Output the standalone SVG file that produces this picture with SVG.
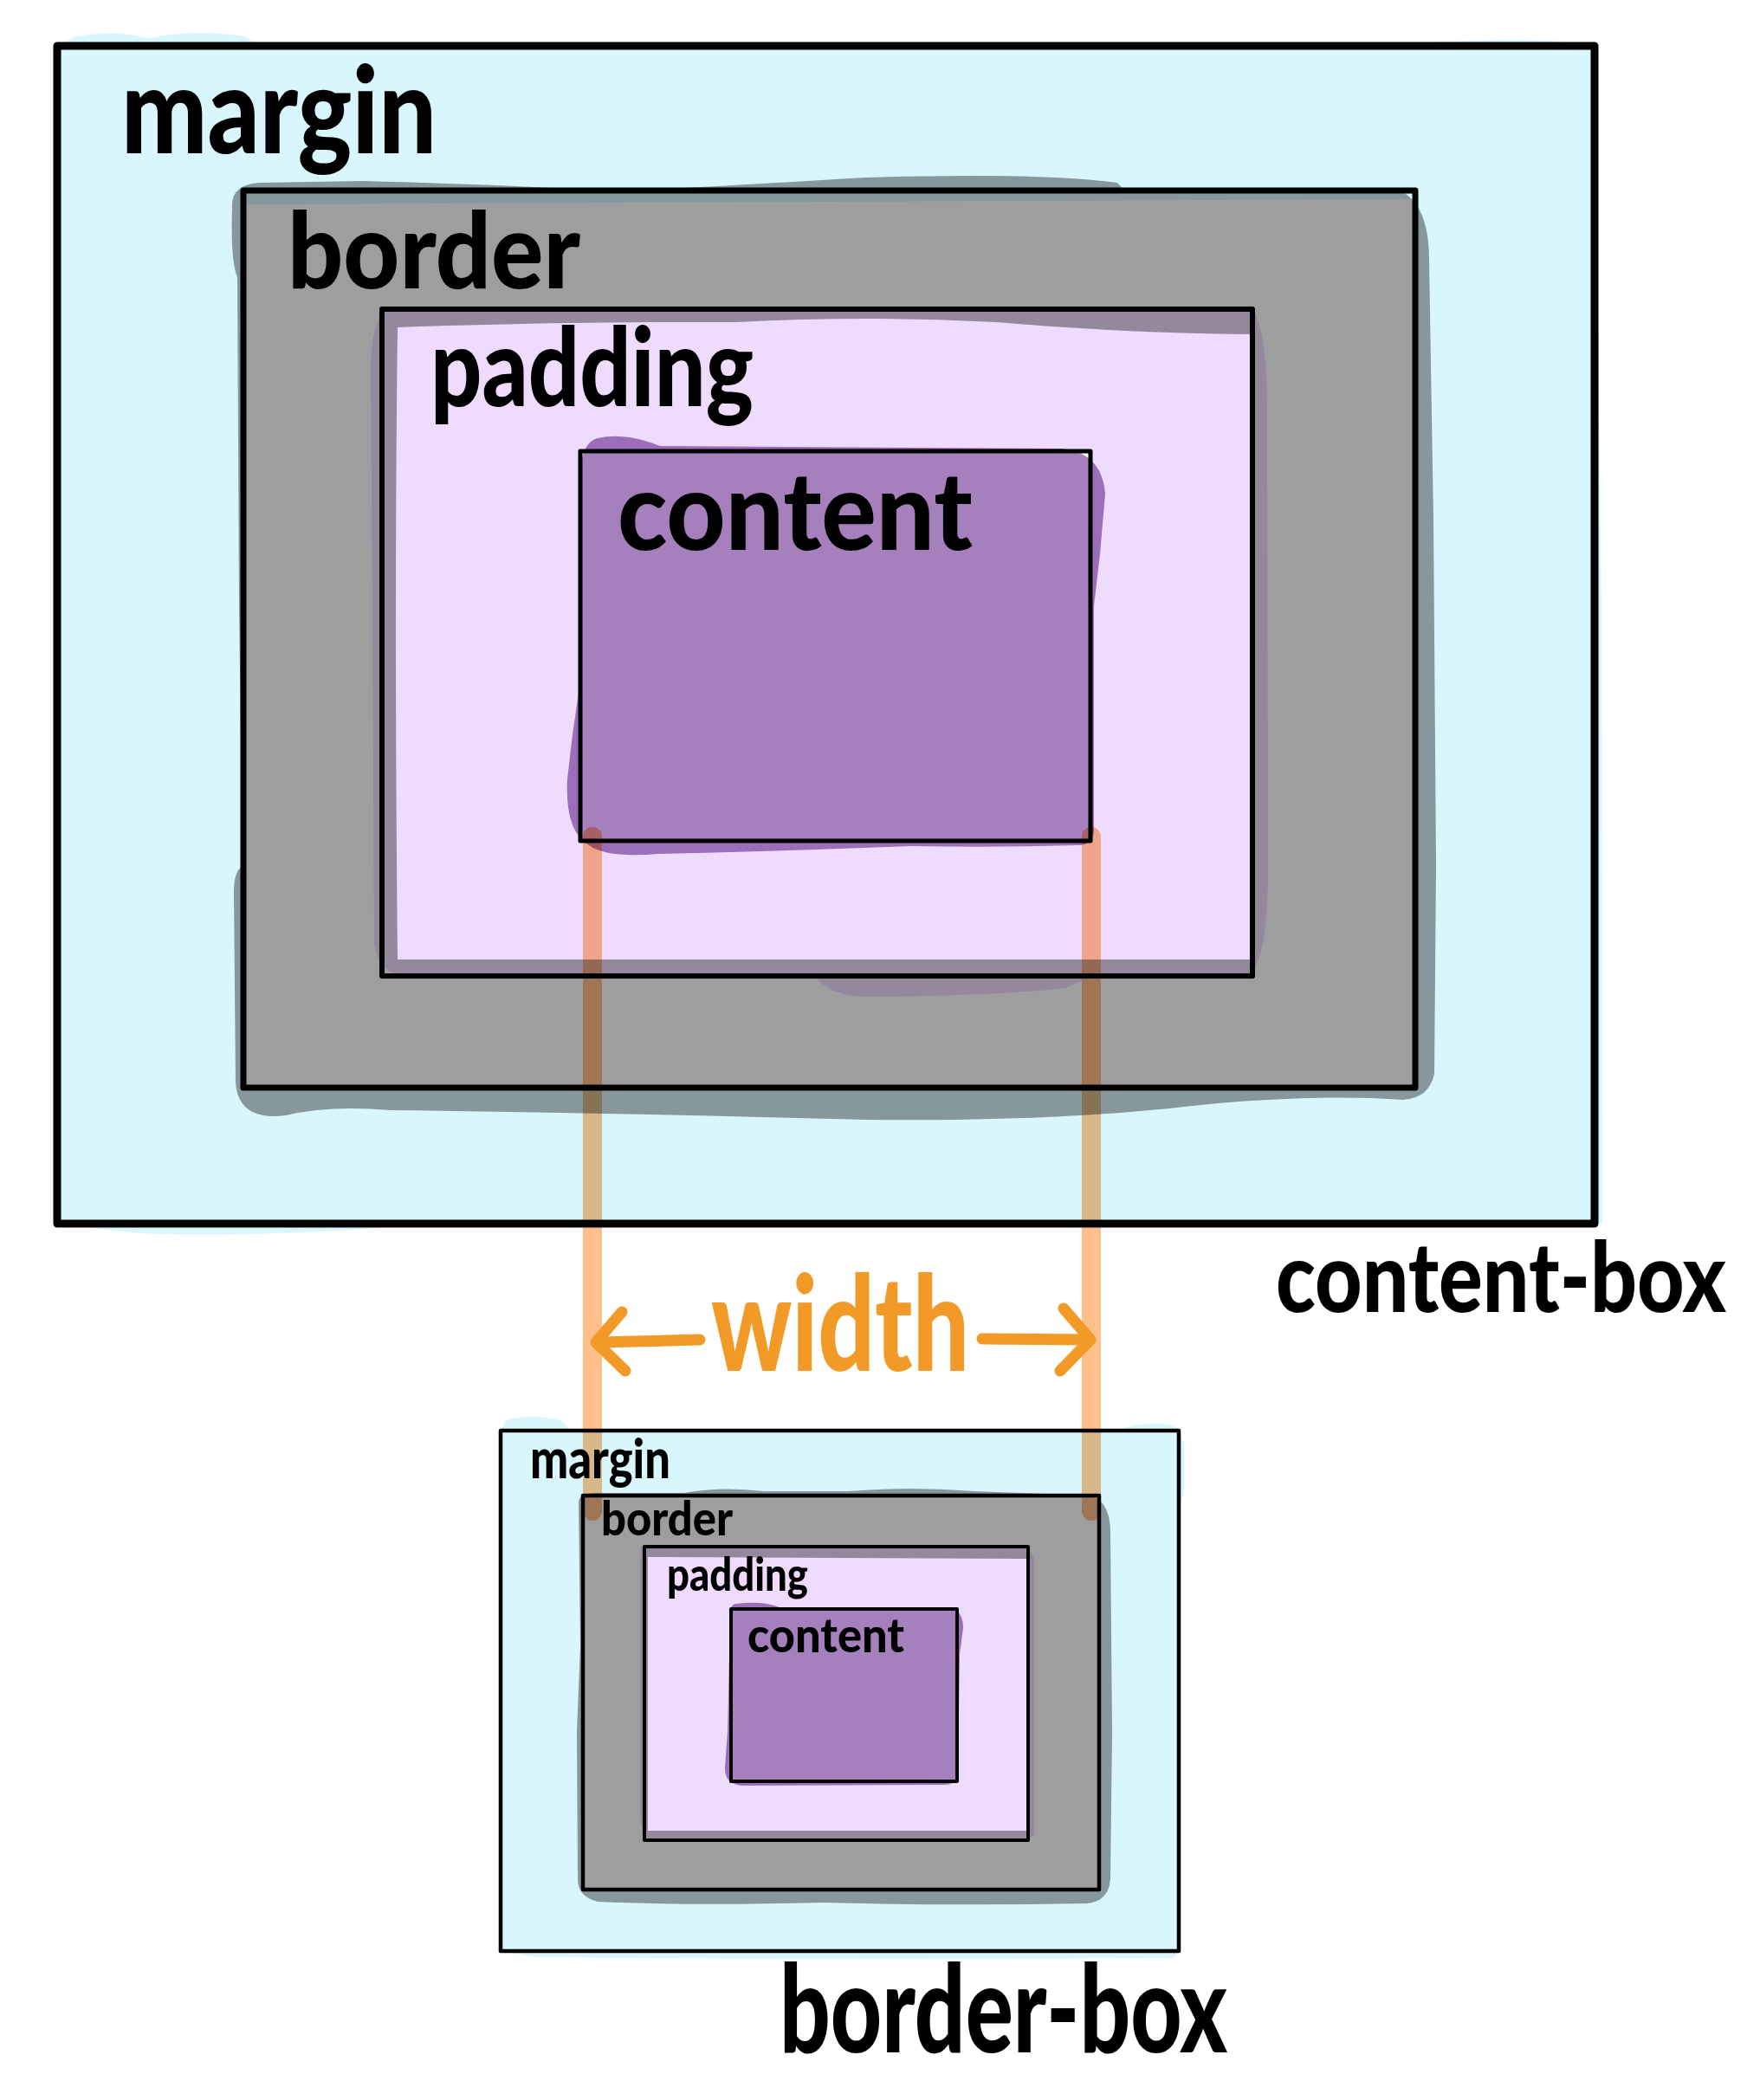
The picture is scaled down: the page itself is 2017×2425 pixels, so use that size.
<svg xmlns="http://www.w3.org/2000/svg" width="2017" height="2425" viewBox="0 0 2017 2425">
<style>
.m{fill:#D9F6FC;mix-blend-mode:multiply}
.b{fill:#9E9E9E;mix-blend-mode:multiply}
.p{fill:#EFDBFD;mix-blend-mode:multiply}
.c{fill:#A580BC;mix-blend-mode:multiply}
.o{fill:none;stroke:#000;stroke-linejoin:round;stroke-linecap:round}
.t{font-family:Lato,"Liberation Sans",sans-serif;font-weight:900;fill:#000}
.guide{fill:none;stroke:#FFBF8A;stroke-width:22;stroke-linecap:round;mix-blend-mode:multiply}
.arw{fill:none;stroke:#F29A27;stroke-width:13;stroke-linecap:round;stroke-linejoin:round}
</style>
<rect width="2017" height="2425" fill="#fff"/>

<g id="content-box-model">
 <g id="top-margin">
  <path class="m" fill-rule="evenodd" d="M66,53 L88,42 Q130,34 172,44 Q225,33 282,42 L300,53 L1600,53 Q1700,44 1790,47 L1841,53 L1849,700 L1850,1413 L500,1413 Q300,1430 160,1424 L66,1413 Z M281,236 L1635,230 L1635,1256 L281,1256 Z"/>
  <rect class="o" x="66" y="53" width="1775" height="1360" stroke-width="9"/>
  <text class="t" x="140" y="177" font-size="140" textLength="364" lengthAdjust="spacingAndGlyphs">margin</text>
 </g>
 <g id="top-border">
  <path class="b" fill-rule="evenodd" d="M268,240 Q266,213 300,211 L420,209 Q600,214 720,221 Q900,211 1000,205 Q1200,199 1290,211 L1300,222 L1620,222 Q1650,240 1650,300 L1655,600 L1658,1000 L1656,1240 Q1650,1268 1620,1270 Q1500,1262 1350,1280 Q1200,1295 1000,1293 Q700,1285 450,1282 Q380,1276 330,1288 Q275,1295 272,1250 L270,1030 Q270,1005 280,1000 L276,700 L274,320 Q266,300 268,240 Z M459,378 Q650,371 850,372 Q1000,364 1150,372 Q1300,385 1446,386 L1446,1108 L459,1108 Q455,700 459,378 Z"/>
  <rect class="o" x="281" y="220" width="1353" height="1036" stroke-width="7"/>
  <text class="t" x="332" y="333" font-size="122" textLength="338" lengthAdjust="spacingAndGlyphs">border</text>
 </g>
 <g id="top-padding">
  <path class="p" fill-rule="evenodd" d="M445,357 L1446,357 Q1463,380 1463,480 L1464,1000 Q1464,1112 1440,1128 L1260,1128 L1230,1141 Q1150,1150 1000,1151 Q958,1150 940,1127 L470,1127 Q438,1126 432,1090 L430,700 L428,420 Q430,372 445,357 Z M670,521 L670,971 L1259,971 L1259,521 Z"/>
  <rect class="o" x="441" y="357" width="1005" height="770" stroke-width="6"/>
  <text class="t" x="497" y="469" font-size="126" textLength="373" lengthAdjust="spacingAndGlyphs">padding</text>
 </g>
 <g id="top-content">
  <path class="c" d="M690,506 Q722,499 762,515 L1225,518 Q1272,522 1276,570 L1270,640 L1263,700 L1263,960 Q1261,976 1245,976 Q1150,979 1050,977 Q900,983 760,986 Q700,991 680,976 Q652,960 655,900 Q660,850 668,800 L670,560 Q668,512 690,506 Z"/>
  <rect class="o" x="670" y="521" width="589" height="450" stroke-width="5"/>
  <text class="t" x="713" y="635" font-size="126" textLength="410" lengthAdjust="spacingAndGlyphs">content</text>
 </g>
 <text id="label-content-box" class="t" x="1473" y="1515" font-size="112" textLength="520" lengthAdjust="spacingAndGlyphs">content-box</text>
</g>

<g id="border-box-model">
 <g id="bottom-margin">
  <path class="m" fill-rule="evenodd" d="M578,1652 L584,1640 Q610,1632 648,1640 L660,1652 L1290,1652 Q1320,1640 1355,1646 L1367,1665 L1367,1725 L1361,1740 L1361,2253 L1355,2261 Q1000,2264 620,2260 L578,2253 Z M673,1730 L1269,1730 L1269,2182 L673,2182 Z"/>
  <rect class="o" x="578" y="1652" width="783" height="601" stroke-width="4.5"/>
  <text class="t" x="612" y="1707" font-size="62" textLength="162" lengthAdjust="spacingAndGlyphs">margin</text>
 </g>
 <g id="bottom-border">
  <path class="b" fill-rule="evenodd" d="M668,1735 Q668,1724 690,1724 L790,1724 Q832,1716 882,1722 L980,1722 Q1050,1716 1124,1722 L1260,1727 Q1282,1735 1282,1770 L1284,2000 L1282,2170 Q1280,2196 1255,2198 Q1100,2201 950,2197 Q800,2201 690,2196 Q667,2190 667,2170 L666,2000 L670,1900 L668,1735 Z M748,1798 L1187,1800 L1187,2114 L748,2114 Z"/>
  <rect class="o" x="673" y="1727" width="596" height="455" stroke-width="4.5"/>
  <text class="t" x="694" y="1773" font-size="56" textLength="152" lengthAdjust="spacingAndGlyphs">border</text>
 </g>
 <g id="bottom-padding">
  <path class="p" fill-rule="evenodd" d="M740,1786 L1187,1786 L1194,1800 L1194,2118 L1187,2125 L744,2125 L739,2100 L739,1800 Z M844,1858 L844,2057 L1105,2057 L1105,1858 Z"/>
  <rect class="o" x="744" y="1786" width="443" height="339" stroke-width="4"/>
  <text class="t" x="770" y="1837" font-size="54" textLength="163" lengthAdjust="spacingAndGlyphs">padding</text>
 </g>
 <g id="bottom-content">
  <path class="c" d="M850,1852 Q880,1848 900,1856 L1100,1858 Q1112,1862 1112,1880 L1108,1910 L1106,2050 Q1104,2061 1090,2061 L860,2062 Q836,2062 837,2040 L840,2000 L843,1870 Q842,1852 850,1852 Z"/>
  <rect class="o" x="844" y="1858" width="261" height="199" stroke-width="4"/>
  <text class="t" x="863" y="1908" font-size="56" textLength="181" lengthAdjust="spacingAndGlyphs">content</text>
 </g>
 <text id="label-border-box" class="t" x="900" y="2370" font-size="142" textLength="517" lengthAdjust="spacingAndGlyphs">border-box</text>
</g>

<g id="connectors">
 <path class="guide" d="M684,966 L684,1745"/>
 <path class="guide" d="M1260,966 L1260,1745"/>
 <g id="width-arrows">
  <path class="arw" d="M808,1547 L692,1550"/>
  <path class="arw" d="M718,1515 L688,1550 L722,1583"/>
  <path class="arw" d="M1134,1546 L1254,1547"/>
  <path class="arw" d="M1228,1511 L1259,1547 L1224,1583"/>
  <text x="821" y="1583" font-family="Lato,'Liberation Sans',sans-serif" font-weight="900" font-size="152" fill="#F29A27" textLength="298" lengthAdjust="spacingAndGlyphs">width</text>
 </g>
</g>
</svg>
